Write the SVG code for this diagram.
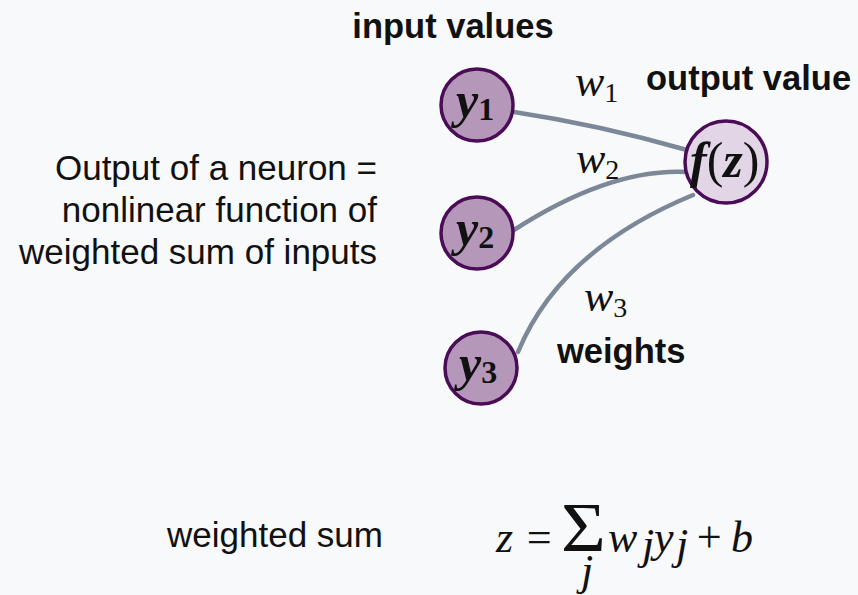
<svg xmlns="http://www.w3.org/2000/svg" width="858" height="595" viewBox="0 0 858 595">
<defs>
<style>
.bg{fill:#f8f9fa}
.in{fill:#b598b9;stroke:#4b0c57;stroke-width:3.5}
.out{fill:#e2d6e6;stroke:#4b0c57;stroke-width:3.5}
.edge{fill:none;stroke:#7c8798;stroke-width:4.5;stroke-linecap:round}
.b{font-family:"Liberation Sans",Arial,sans-serif;font-weight:bold;font-size:34.5px;fill:#111}
.t{font-family:"Liberation Sans",Arial,sans-serif;font-size:35px;fill:#111}
.m{font-family:"Liberation Serif","DejaVu Serif",serif;font-style:italic;font-size:44px;fill:#111}
.mb{font-family:"Liberation Serif","DejaVu Serif",serif;font-style:italic;font-weight:bold;font-size:50px;fill:#111}
.sub{font-size:32px;font-style:normal}
.s{font-size:28px;font-style:normal}
</style>
</defs>
<rect class="bg" width="858" height="595"/>
<g id="connectors">
<path class="edge" d="M514,112 Q600,125 687,150"/>
<path class="edge" d="M514,230 Q610,168 687,172"/>
<path class="edge" d="M518,352 Q560,250 693,195"/>
</g>
<g id="y1">
<circle class="in" cx="477" cy="105" r="36"/>
<text class="mb" x="456" y="117">y<tspan class="sub" dy="3">1</tspan></text>
</g>
<g id="y2">
<circle class="in" cx="477" cy="233" r="36"/>
<text class="mb" x="456" y="245">y<tspan class="sub" dy="3">2</tspan></text>
</g>
<g id="y3">
<circle class="in" cx="481" cy="368" r="36"/>
<text class="mb" x="459" y="380">y<tspan class="sub" dy="3">3</tspan></text>
</g>
<g id="fz">
<circle class="out" cx="726" cy="162" r="41"/>
<text class="mb" x="690" y="177" font-size="48">f<tspan font-style="normal" font-weight="normal">(</tspan>z<tspan font-style="normal" font-weight="normal">)</tspan></text>
</g>
<g id="labels">
<text class="b" x="453" y="38" text-anchor="middle">input values</text>
<text class="b" x="646" y="90">output value</text>
<text class="b" x="557" y="363">weights</text>
<text class="t" x="377" y="180" text-anchor="end">Output of a neuron =</text>
<text class="t" x="377" y="222" text-anchor="end">nonlinear function of</text>
<text class="t" x="377" y="264" text-anchor="end">weighted sum of inputs</text>
<text class="m" x="575" y="96">w<tspan class="s" dy="6">1</tspan></text>
<text class="m" x="576" y="173">w<tspan class="s" dy="6">2</tspan></text>
<text class="m" x="584" y="311">w<tspan class="s" dy="6">3</tspan></text>
<text class="t" x="167" y="547">weighted sum</text>
<text class="m" x="496" y="552">z</text>
<text class="m" x="524" y="552" font-style="normal">=</text>
<text transform="translate(561,551) scale(1.1,1)" font-family="'Liberation Serif',serif" font-size="70" fill="#111">Σ</text>
<text class="m" x="581" y="585" font-size="26">j</text>
<text class="m" x="608" y="552">w</text>
<text class="m" x="642" y="559" font-size="28">j</text>
<text class="m" x="654" y="552">y</text>
<text class="m" x="676" y="559" font-size="28">j</text>
<text class="m" x="694" y="552" font-style="normal">+</text>
<text class="m" x="731" y="552">b</text>
</g>
</svg>
